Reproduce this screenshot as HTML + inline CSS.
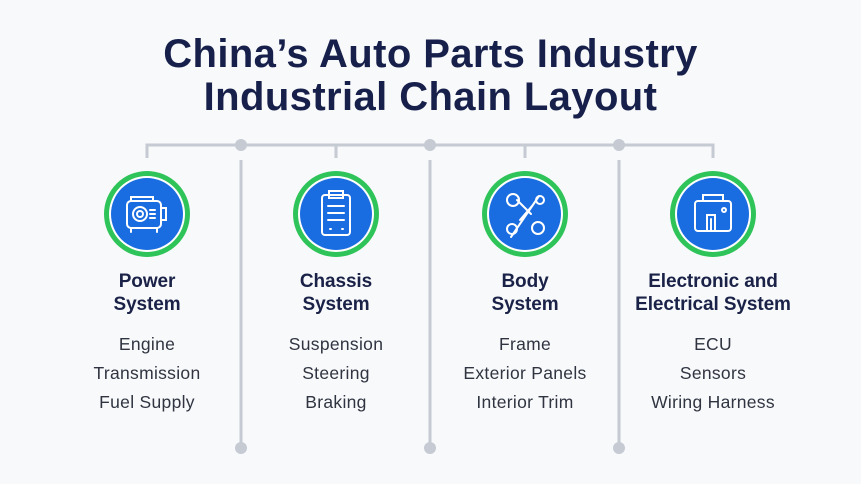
<!DOCTYPE html>
<html><head><meta charset="utf-8"><style>
body{margin:0;width:861px;height:484px;background:#f8f9fb;font-family:"Liberation Sans",sans-serif;position:relative;overflow:hidden}
.t{position:absolute;left:0;width:861px;text-align:center;font-weight:bold;color:#16204a;font-size:40px;letter-spacing:0.4px}
.h{position:absolute;width:220px;text-align:center;font-weight:bold;color:#1a2248;font-size:19px;line-height:23px;letter-spacing:-0.1px}
.i{position:absolute;width:220px;text-align:center;color:#2f3440;font-size:17.5px;line-height:29px;letter-spacing:0.3px}
</style></head><body>
<div class="t" style="top:32px">China’s Auto Parts Industry</div>
<div class="t" style="top:75px">Industrial Chain Layout</div>
<svg width="861" height="484" style="position:absolute;left:0;top:0">
<g stroke="#c5cad3" stroke-width="3" fill="none">
<path d="M147 158V145H713V158M336 145V158M525 145V158"/>
<path d="M241 160V448M430 160V448M619 160V448"/>
</g>
<g fill="#c5cad3">
<circle cx="241" cy="145" r="6"/><circle cx="430" cy="145" r="6"/><circle cx="619" cy="145" r="6"/>
<circle cx="241" cy="448" r="6"/><circle cx="430" cy="448" r="6"/><circle cx="619" cy="448" r="6"/>
</g>
<g>
<circle cx="147" cy="214" r="43" fill="#2fc45a"/><circle cx="147" cy="214" r="38" fill="#fff"/><circle cx="147" cy="214" r="36" fill="#1a6de0"/>
<circle cx="336" cy="214" r="43" fill="#2fc45a"/><circle cx="336" cy="214" r="38" fill="#fff"/><circle cx="336" cy="214" r="36" fill="#1a6de0"/>
<circle cx="525" cy="214" r="43" fill="#2fc45a"/><circle cx="525" cy="214" r="38" fill="#fff"/><circle cx="525" cy="214" r="36" fill="#1a6de0"/>
<circle cx="713" cy="214" r="43" fill="#2fc45a"/><circle cx="713" cy="214" r="38" fill="#fff"/><circle cx="713" cy="214" r="36" fill="#1a6de0"/>
</g>
<g stroke="#fff" stroke-width="2" fill="none" stroke-linecap="round">
<rect x="127" y="201" width="34" height="27" rx="4"/><circle cx="140" cy="214" r="7"/><circle cx="140" cy="214" r="3"/>
<path d="M131 201v-4h22v4M161 208h5v12h-5M150 210h5M150 214h5M150 218h5M131 228v4M157 228v4"/>
<rect x="322" y="195" width="28" height="40" rx="3"/><rect x="329" y="191" width="14" height="7"/>
<path d="M328 206h16M328 213h16M328 220h16M330 229h1M342 229h1"/>
<path d="M511 237L539 196M517 200l14 14M520 220l12-14"/>
<circle cx="513" cy="200" r="6"/><circle cx="538" cy="228" r="6"/><circle cx="540" cy="200" r="4"/><circle cx="512" cy="229" r="5"/>
<rect x="695" y="201" width="36" height="30" rx="3"/><path d="M703 201v-6h20v6M707 231v-16h8v16M711 231v-12"/><circle cx="724" cy="210" r="2"/>
</g>
</svg>
<div class="h" style="left:37px;top:270px">Power<br>System</div>
<div class="h" style="left:226px;top:270px">Chassis<br>System</div>
<div class="h" style="left:415px;top:270px">Body<br>System</div>
<div class="h" style="left:603px;top:270px">Electronic and<br>Electrical System</div>
<div class="i" style="left:37px;top:330px">Engine<br>Transmission<br>Fuel Supply</div>
<div class="i" style="left:226px;top:330px">Suspension<br>Steering<br>Braking</div>
<div class="i" style="left:415px;top:330px">Frame<br>Exterior Panels<br>Interior Trim</div>
<div class="i" style="left:603px;top:330px">ECU<br>Sensors<br>Wiring Harness</div>
</body></html>
